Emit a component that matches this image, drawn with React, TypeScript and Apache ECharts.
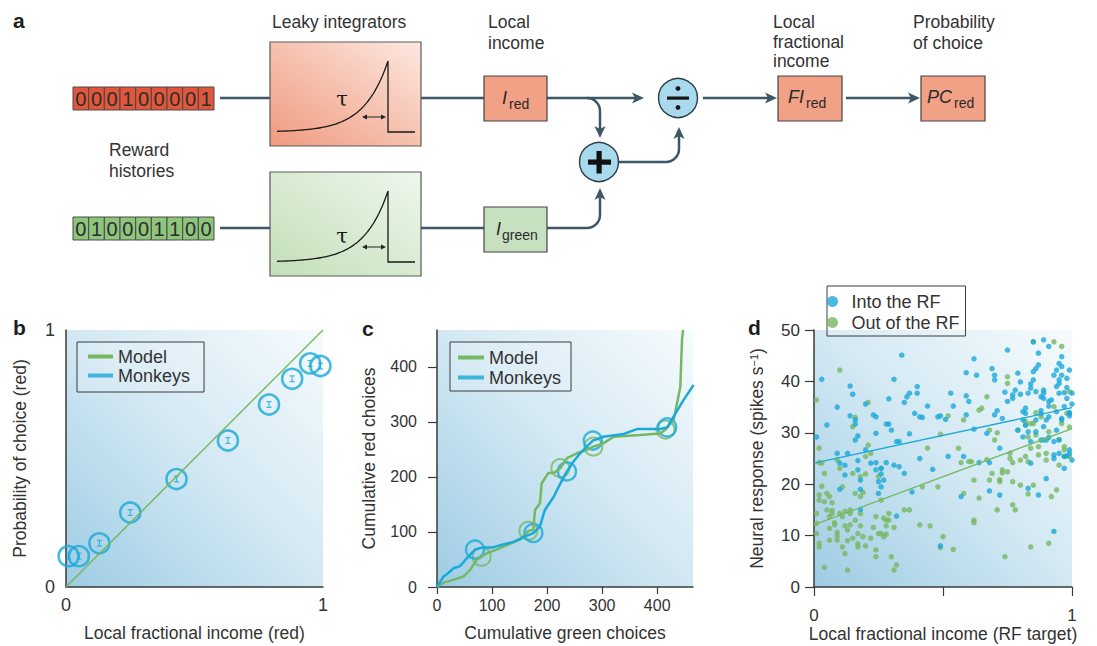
import React, { useEffect, useRef } from "react";
import * as echarts from "echarts";

const FONT = '"Liberation Sans", Arimo, Arial, Helvetica, sans-serif';
const SERIF = '"DejaVu Serif", "Liberation Serif", serif';
const TEXT = "#333333";
const BLUE = "#1aa9da";
const GREEN = "#76b862";
const AXIS = "#3a3a3a";
const WIRE = "#3d5764";

// ---------- Panel a: reward histories ----------
const redHistory = [0, 0, 0, 1, 0, 0, 0, 0, 1];
const greenHistory = [0, 1, 0, 0, 0, 1, 1, 0, 0];

// ---------- Panel b ----------
const fractionalIncome = [0.01, 0.05, 0.13, 0.25, 0.43, 0.63, 0.79, 0.88, 0.95, 0.99];
const choiceProbability = [0.12, 0.12, 0.17, 0.29, 0.42, 0.57, 0.71, 0.81, 0.87, 0.86];
const modelDiagonal = [[0, 0], [1, 1]];
const bTicks = [0, 1];

// ---------- Panel c ----------
const monkeyCumulative = [
  [0, 0], [6, 10], [12, 19], [20, 25], [30, 34], [42, 38], [54, 52], [69, 68], [84, 72], [102, 72],
  [115, 76], [139, 82], [160, 92], [175, 98], [187, 110], [196, 140], [212, 164], [224, 188],
  [236, 210], [248, 228], [260, 243], [272, 255], [283, 266], [302, 273], [339, 278], [363, 287],
  [405, 287], [418, 290], [430, 310], [448, 340], [466, 367],
];
const modelCumulative = [
  [0, 0], [12, 8], [30, 13], [48, 19], [60, 31], [72, 49], [81, 55], [90, 61], [108, 68], [127, 76],
  [151, 86], [166, 102], [175, 104], [178, 140], [187, 152], [190, 188], [202, 207], [212, 207],
  [224, 216], [236, 234], [254, 243], [272, 249], [284, 255], [302, 261], [321, 273], [369, 276],
  [405, 279], [415, 286], [430, 304], [442, 364], [445, 449], [447, 467],
];
const monkeyMarkers = [[69, 68], [175, 98], [236, 210], [283, 266], [418, 290]];
const modelMarkers = [[81, 55], [166, 102], [224, 216], [284, 255], [415, 286]];
const cTicks = [0, 100, 200, 300, 400];

// ---------- Panel d ----------
const intoRF = [
  [0.01, 29.2], [0.03, 40.4], [0.05, 31.5], [0.09, 35.0], [0.10, 24.1], [0.09, 26.0], [0.10, 19.0], [0.12, 23.7],
  [0.12, 21.8], [0.13, 26.0], [0.14, 39.1], [0.14, 33.3], [0.15, 37.5], [0.16, 32.5], [0.16, 31.7], [0.17, 29.4],
  [0.16, 28.6], [0.17, 24.6], [0.17, 22.8], [0.18, 20.8], [0.18, 19.0], [0.18, 15.1], [0.20, 26.7], [0.20, 35.6],
  [0.22, 24.1], [0.23, 33.5], [0.24, 33.1], [0.24, 29.9], [0.24, 22.8], [0.24, 24.2], [0.25, 20.5], [0.25, 18.2],
  [0.26, 23.1], [0.26, 22.0], [0.26, 19.5], [0.27, 20.8], [0.28, 24.2], [0.28, 31.7], [0.29, 31.7], [0.29, 36.6],
  [0.30, 30.5], [0.31, 40.4], [0.31, 23.7], [0.32, 28.3], [0.32, 13.8], [0.33, 28.3], [0.33, 23.4], [0.34, 45.1],
  [0.35, 22.1], [0.35, 35.9], [0.36, 37.0], [0.37, 29.8], [0.37, 37.7], [0.38, 18.5], [0.39, 33.8], [0.40, 39.0],
  [0.40, 37.7], [0.41, 25.0], [0.41, 33.1], [0.42, 33.0], [0.44, 35.2], [0.46, 22.9], [0.48, 33.1], [0.49, 33.3],
  [0.49, 8.0], [0.51, 32.6], [0.52, 25.4], [0.53, 37.7], [0.54, 35.2], [0.57, 17.6], [0.58, 25.4], [0.59, 33.5],
  [0.59, 41.7], [0.59, 37.2], [0.60, 36.1], [0.62, 30.7], [0.62, 44.4], [0.63, 41.2], [0.64, 24.2], [0.67, 29.9],
  [0.68, 18.7], [0.68, 24.2], [0.69, 42.5], [0.70, 41.2], [0.70, 40.3], [0.70, 33.5], [0.71, 34.3], [0.72, 27.0],
  [0.72, 17.9], [0.73, 32.8], [0.74, 37.9], [0.75, 46.1], [0.75, 36.1], [0.77, 36.7], [0.77, 37.4], [0.78, 38.3],
  [0.79, 41.6], [0.79, 30.5], [0.80, 37.5], [0.80, 39.9], [0.81, 32.5], [0.81, 34.1], [0.82, 31.5], [0.82, 33.8],
  [0.82, 34.8], [0.83, 30.2], [0.83, 19.2], [0.83, 37.7], [0.84, 39.5], [0.84, 38.7], [0.84, 24.1], [0.85, 47.7],
  [0.85, 41.9], [0.85, 40.3], [0.86, 32.5], [0.86, 38.0], [0.86, 42.5], [0.87, 43.2], [0.87, 17.9], [0.87, 45.5],
  [0.88, 28.6], [0.88, 37.0], [0.88, 33.7], [0.88, 34.3], [0.89, 48.1], [0.89, 36.7], [0.89, 38.3], [0.89, 37.7],
  [0.90, 32.5], [0.90, 28.6], [0.90, 21.1], [0.91, 46.8], [0.91, 36.1], [0.91, 35.2], [0.91, 29.1], [0.92, 36.4],
  [0.93, 28.3], [0.93, 10.8], [0.93, 25.7], [0.93, 25.0], [0.93, 41.2], [0.94, 42.2], [0.94, 39.0], [0.94, 34.1],
  [0.95, 40.3], [0.95, 37.7], [0.95, 39.6], [0.95, 43.5], [0.96, 41.2], [0.96, 44.8], [0.96, 42.9], [0.96, 32.8],
  [0.97, 35.1], [0.97, 23.1], [0.97, 37.8], [0.98, 38.8], [0.98, 40.6], [0.98, 36.7], [0.99, 33.9], [0.99, 33.8],
  [0.99, 42.2], [0.99, 33.3], [1.00, 24.7], [1.00, 37.7], [1.00, 35.6], [0.99, 26.0], [0.99, 26.7], [0.98, 25.5],
  [0.97, 25.4], [0.95, 26.0], [0.95, 28.6], [0.96, 32.5], [0.94, 30.5], [0.91, 33.1], [0.89, 31.2], [0.86, 30.2],
  [0.84, 28.3], [0.81, 29.2],
];
const outRF = [
  [0.01, 36.4], [0.02, 27.0], [0.02, 24.2], [0.03, 24.1], [0.03, 19.6], [0.02, 17.9], [0.02, 16.9], [0.01, 14.3],
  [0.01, 12.4], [0.01, 10.4], [0.02, 8.5], [0.02, 7.8], [0.04, 22.1], [0.04, 16.6], [0.04, 3.8], [0.05, 15.0],
  [0.05, 18.2], [0.06, 11.4], [0.06, 13.7], [0.06, 17.6], [0.06, 9.1], [0.07, 14.3], [0.07, 14.9], [0.07, 16.4],
  [0.08, 12.5], [0.08, 12.1], [0.09, 24.7], [0.09, 10.6], [0.09, 9.1], [0.09, 9.9], [0.10, 14.3], [0.10, 23.1],
  [0.10, 42.2], [0.11, 13.7], [0.11, 19.5], [0.11, 7.8], [0.12, 11.9], [0.12, 6.5], [0.12, 14.7], [0.13, 3.3],
  [0.13, 11.1], [0.13, 9.0], [0.14, 14.3], [0.14, 12.1], [0.14, 15.0], [0.15, 22.1], [0.15, 9.5], [0.15, 31.2],
  [0.16, 33.0], [0.16, 18.2], [0.16, 13.0], [0.17, 7.8], [0.17, 10.4], [0.17, 8.4], [0.18, 17.6], [0.18, 14.3],
  [0.18, 21.5], [0.18, 11.9], [0.19, 9.8], [0.19, 18.4], [0.20, 25.4], [0.20, 22.0], [0.20, 8.0], [0.21, 35.9],
  [0.21, 27.6], [0.22, 26.0], [0.22, 9.5], [0.23, 11.6], [0.24, 13.7], [0.24, 7.2], [0.24, 5.9], [0.25, 10.4],
  [0.25, 21.5], [0.26, 23.1], [0.26, 10.4], [0.26, 16.9], [0.27, 9.8], [0.27, 13.4], [0.28, 10.3], [0.28, 13.0],
  [0.28, 11.9], [0.29, 14.3], [0.29, 13.0], [0.30, 5.9], [0.31, 11.6], [0.31, 3.3], [0.32, 4.3], [0.35, 15.0],
  [0.37, 15.0], [0.42, 19.5], [0.41, 12.1], [0.44, 27.0], [0.45, 11.9], [0.48, 19.5], [0.49, 29.7], [0.49, 7.7],
  [0.50, 9.8], [0.52, 33.3], [0.54, 7.3], [0.56, 27.0], [0.57, 24.2], [0.58, 32.5], [0.58, 18.2], [0.60, 24.4],
  [0.61, 24.4], [0.62, 12.5], [0.62, 13.0], [0.62, 20.8], [0.64, 34.4], [0.64, 17.3], [0.65, 34.8], [0.67, 37.0],
  [0.67, 24.8], [0.68, 20.8], [0.68, 30.5], [0.69, 22.1], [0.70, 28.6], [0.71, 15.0], [0.71, 30.0], [0.72, 20.9],
  [0.72, 20.5], [0.73, 22.2], [0.73, 22.8], [0.74, 5.9], [0.75, 40.9], [0.75, 39.6], [0.75, 22.4], [0.76, 25.0],
  [0.76, 26.0], [0.77, 16.0], [0.77, 24.2], [0.77, 20.5], [0.78, 15.0], [0.79, 30.5], [0.80, 24.7], [0.80, 19.8],
  [0.82, 25.4], [0.82, 31.5], [0.82, 32.2], [0.83, 29.2], [0.83, 24.4], [0.83, 18.1], [0.84, 7.8], [0.84, 27.0],
  [0.84, 31.8], [0.85, 19.8], [0.85, 47.7], [0.85, 31.8], [0.86, 33.9], [0.86, 29.6], [0.87, 25.7], [0.87, 27.3],
  [0.88, 33.1], [0.89, 28.6], [0.90, 24.7], [0.90, 26.0], [0.91, 8.5], [0.91, 30.2], [0.92, 17.6], [0.93, 47.7],
  [0.93, 35.1], [0.94, 18.9], [0.95, 23.7], [0.95, 28.7], [0.96, 31.8], [0.96, 46.8], [0.97, 25.4], [0.97, 26.7],
  [0.97, 27.3], [0.98, 33.8], [0.99, 25.4], [0.99, 38.0], [0.99, 31.1],
];
const intoFit = [[0, 24.1], [1, 34.9]];
const outFit = [[0, 12.1], [1, 30.8]];
const dXLabels = [0, 1];

// ---------- helpers ----------
const plotBg = () =>
  new echarts.graphic.LinearGradient(0, 1, 1, 0, [
    { offset: 0, color: "#9ecce4" },
    { offset: 0.5, color: "#d2e8f3" },
    { offset: 1, color: "#f6fbfd" },
  ]);

const txt = (text: string, x: number, y: number, o: any = {}) => ({
  type: "text",
  x,
  y,
  silent: true,
  z: 10,
  style: {
    text,
    fill: o.fill || TEXT,
    fontSize: o.fontSize || 17.5,
    fontFamily: o.fontFamily || FONT,
    fontWeight: o.fontWeight || "normal",
    fontStyle: o.fontStyle || "normal",
    align: o.align || "left",
    verticalAlign: o.va || "middle",
    textAlign: o.align || "left",
    textVerticalAlign: o.va || "middle",
    lineHeight: o.lineHeight,
  },
});

const wire = (x1: number, y1: number, x2: number, y2: number) => ({
  type: "line",
  silent: true,
  shape: { x1, y1, x2, y2 },
  style: { stroke: WIRE, lineWidth: 2.5 },
});

const poly = (points: number[][], fill = WIRE) => ({
  type: "polygon",
  silent: true,
  shape: { points },
  style: { fill },
});

const headRight = (tx: number, ty: number) => poly([[tx, ty], [tx - 12, ty - 5.5], [tx - 9, ty], [tx - 12, ty + 5.5]]);
const headDown = (tx: number, ty: number) => poly([[tx, ty], [tx - 5.5, ty - 12], [tx, ty - 9], [tx + 5.5, ty - 12]]);
const headUp = (tx: number, ty: number) => poly([[tx, ty], [tx - 5.5, ty + 12], [tx, ty + 9], [tx + 5.5, ty + 12]]);

const arc = (cx: number, cy: number, r: number, s: number, e: number, cw: boolean) => ({
  type: "arc",
  silent: true,
  shape: { cx, cy, r, startAngle: s, endAngle: e, clockwise: cw },
  style: { stroke: WIRE, lineWidth: 2.5, fill: null },
});

function buildDiagram() {
  const g: any[] = [];
  const cellW = 141 / 9;
  const addHistory = (bits: number[], y: number, fill: string) => {
    bits.forEach((b, i) => {
      const x = 73 + i * cellW;
      g.push({
        type: "rect",
        silent: true,
        shape: { x, y, width: cellW, height: 23 },
        style: { fill, stroke: "#4a4a4a", lineWidth: 1 },
      });
      g.push(txt(String(b), x + cellW / 2, y + 12, { fontSize: 20, align: "center", fill: "#2d2d2d" }));
    });
  };
  addHistory(redHistory, 87, "#e2573b");
  addHistory(greenHistory, 217, "#8ec47c");

  const integrator = (top: number, c0: string, c1: string, tauY: number) => {
    g.push({
      type: "rect",
      silent: true,
      shape: { x: 270, y: top, width: 151, height: 104 },
      style: {
        fill: new echarts.graphic.LinearGradient(0, 1, 1, 0, [
          { offset: 0, color: c0 },
          { offset: 1, color: c1 },
        ]),
        stroke: "#5a5a5a",
        lineWidth: 1.2,
      },
    });
    const base = top + 90;
    const peak = top + 19;
    const px = 388;
    const pts: number[][] = [];
    for (let x = 277; x < px; x += 1.5) pts.push([x, base - (base - peak) * Math.exp((x - px) / 24)]);
    pts.push([px, peak], [px, base], [415, base]);
    g.push({
      type: "polyline",
      silent: true,
      shape: { points: pts },
      style: { stroke: "#1a1a1a", lineWidth: 1.3, fill: null },
    });
    g.push(txt("τ", 342, top + tauY, { fontSize: 21, fontFamily: SERIF, align: "center", fill: "#1a1a1a" }));
    const ay = top + 75;
    g.push({ type: "line", silent: true, shape: { x1: 365, y1: ay, x2: 383, y2: ay }, style: { stroke: "#222", lineWidth: 1 } });
    g.push(poly([[362, ay], [367, ay - 2.5], [367, ay + 2.5]], "#222"));
    g.push(poly([[386, ay], [381, ay - 2.5], [381, ay + 2.5]], "#222"));
  };
  integrator(42, "#ef9a7e", "#fde8e0", 57);
  integrator(172, "#c2dfb8", "#eff7ed", 64);

  // wires
  g.push(wire(220, 98, 270, 98), wire(220, 228, 270, 228));
  g.push(wire(421, 98, 484, 98), wire(421, 228, 484, 228));
  g.push(wire(547, 98, 636, 98), headRight(644, 98));
  g.push(arc(587, 111, 13, -Math.PI / 2, 0, true), wire(600, 111, 600, 130), headDown(600, 138));
  g.push(wire(617, 162, 666, 162), arc(666, 149, 13, Math.PI / 2, 0, false), wire(679, 149, 679, 134), headUp(679, 127));
  g.push(wire(547, 228, 587, 228), arc(587, 215, 13, Math.PI / 2, 0, false), wire(600, 215, 600, 195), headUp(600, 188));
  g.push(wire(703, 98, 769, 98), headRight(777, 98));
  g.push(wire(846, 98, 912, 98), headRight(920, 98));

  // operators
  g.push({
    type: "circle",
    silent: true,
    shape: { cx: 678, cy: 98, r: 19.5 },
    style: { fill: "#a8d9ec", stroke: "#2e3e46", lineWidth: 1.4 },
  });
  g.push({ type: "rect", silent: true, shape: { x: 667, y: 96.5, width: 22, height: 3.2 }, style: { fill: "#151515" } });
  g.push({ type: "circle", silent: true, shape: { cx: 678, cy: 88.5, r: 2.4 }, style: { fill: "#151515" } });
  g.push({ type: "circle", silent: true, shape: { cx: 678, cy: 107.5, r: 2.4 }, style: { fill: "#151515" } });
  g.push({
    type: "circle",
    silent: true,
    shape: { cx: 599, cy: 162, r: 19.5 },
    style: { fill: "#a8d9ec", stroke: "#2e3e46", lineWidth: 1.4 },
  });
  g.push({ type: "rect", silent: true, shape: { x: 588, y: 159.5, width: 23, height: 5.2 }, style: { fill: "#111" } });
  g.push({ type: "rect", silent: true, shape: { x: 596.5, y: 151, width: 5.2, height: 22.5 }, style: { fill: "#111" } });

  // value boxes
  const box = (x: number, y: number, w: number, fill: string) =>
    g.push({
      type: "rect",
      silent: true,
      shape: { x, y, width: w, height: 45 },
      style: { fill, stroke: "#444", lineWidth: 1.2 },
    });
  box(484, 76, 63, "#f0a186");
  box(484, 207, 63, "#c6e0c0");
  box(778, 76, 64, "#f0a186");
  box(921, 76, 64, "#f0a186");
  const sub = (main: string, x: number, y: number, s: string, sx: number) => {
    g.push(txt(main, x, y, { fontSize: 18, fontStyle: "italic", fill: "#2a2a2a" }));
    g.push(txt(s, sx, y + 6, { fontSize: 14, fill: "#2a2a2a" }));
  };
  sub("I", 502, 98, "red", 509);
  sub("I", 496, 229, "green", 502);
  sub("FI", 788, 97, "red", 806);
  sub("PC", 927, 97, "red", 954);

  // labels
  g.push(txt("Leaky integrators", 272, 22));
  g.push(txt("Local\nincome", 488, 12, { va: "top", lineHeight: 20.5 }));
  g.push(txt("Local\nfractional\nincome", 773, 12, { va: "top", lineHeight: 19.7 }));
  g.push(txt("Probability\nof choice", 913, 12, { va: "top", lineHeight: 20.5 }));
  g.push(txt("Reward\nhistories", 109, 139, { va: "top", lineHeight: 21 }));

  // panel letters
  const letter = (l: string, x: number, y: number) =>
    g.push(txt(l, x, y, { fontSize: 21, fontWeight: "bold", fill: "#1e1e1e" }));
  letter("a", 13, 20);
  letter("b", 13, 327);
  letter("c", 362, 328);
  letter("d", 748, 327);
  return g;
}

const labelStyle = (size: number, margin: number, extra: any = {}) => ({
  color: TEXT,
  fontSize: size,
  fontFamily: FONT,
  margin,
  ...extra,
});
const nameStyle = { color: TEXT, fontSize: 17.5, fontFamily: FONT };
const axisLine = { show: true, onZero: false, lineStyle: { color: AXIS, width: 1.5 } };

function buildOption(): any {
  const gridBase = { show: true, borderWidth: 0, outerBoundsMode: "none", containLabel: false };
  const legendBase = {
    orient: "vertical",
    selectedMode: false,
    borderColor: "#3a3a3a",
    borderWidth: 1,
    borderRadius: 0,
    backgroundColor: "rgba(255,255,255,0.15)",
    textStyle: { fontSize: 18, color: TEXT, fontFamily: FONT, lineHeight: 19 },
  };
  return {
    animation: false,
    backgroundColor: "#ffffff",
    textStyle: { fontFamily: FONT },
    graphic: buildDiagram(),
    grid: [
      { ...gridBase, left: 66, top: 330, width: 257, height: 257, backgroundColor: plotBg() },
      { ...gridBase, left: 437, top: 330, width: 256, height: 257, backgroundColor: plotBg() },
      { ...gridBase, left: 814, top: 330, width: 258, height: 257, backgroundColor: plotBg() },
    ],
    legend: [
      {
        ...legendBase,
        left: 77,
        top: 342,
        padding: [5, 14, 7, 11],
        icon: "rect",
        itemWidth: 25,
        itemHeight: 4,
        itemGap: 0,
        data: [
          { name: "Model", itemStyle: { color: GREEN, borderWidth: 0 } },
          { name: "Monkeys", itemStyle: { color: BLUE, borderWidth: 0 } },
        ],
      },
      {
        ...legendBase,
        left: 450,
        top: 342,
        padding: [6, 10, 4, 8],
        icon: "rect",
        itemWidth: 26,
        itemHeight: 4,
        itemGap: 1,
        data: [
          { name: "Model", itemStyle: { color: GREEN, borderWidth: 0 } },
          { name: "Monkeys", itemStyle: { color: BLUE, borderWidth: 0 } },
        ],
      },
      {
        ...legendBase,
        left: 827,
        top: 286,
        padding: [6, 6, 4, 0],
        icon: "circle",
        itemWidth: 28,
        itemHeight: 11,
        itemGap: 2,
        data: [
          { name: "Into the RF", itemStyle: { color: BLUE, borderWidth: 0 } },
          { name: "Out of the RF", itemStyle: { color: GREEN, borderWidth: 0 } },
        ],
      },
    ],
    xAxis: [
      {
        type: "value",
        gridIndex: 0,
        min: 0,
        max: 1,
        interval: 1,
        axisLine,
        axisTick: { show: false },
        splitLine: { show: false },
        axisLabel: labelStyle(18, 9, { customValues: bTicks }),
        name: "Local fractional income (red)",
        nameLocation: "middle",
        nameGap: 37,
        nameTextStyle: nameStyle,
      },
      {
        type: "value",
        gridIndex: 1,
        min: 0,
        max: 465,
        interval: 100,
        axisLine,
        axisTick: { show: true, length: 7, lineStyle: { color: AXIS, width: 1.2 }, customValues: cTicks },
        splitLine: { show: false },
        axisLabel: labelStyle(16, 10, { customValues: cTicks }),
        name: "Cumulative green choices",
        nameLocation: "middle",
        nameGap: 37,
        nameTextStyle: nameStyle,
      },
      {
        type: "value",
        gridIndex: 2,
        min: 0,
        max: 1,
        interval: 0.5,
        axisLine,
        axisTick: { show: true, length: 9, lineStyle: { color: AXIS, width: 1.2 } },
        splitLine: { show: false },
        axisLabel: labelStyle(17, 20, { customValues: dXLabels }),
        name: "Local fractional income (RF target)",
        nameLocation: "middle",
        nameGap: 37,
        nameTextStyle: nameStyle,
      },
    ],
    yAxis: [
      {
        type: "value",
        gridIndex: 0,
        min: 0,
        max: 1,
        interval: 1,
        axisLine,
        axisTick: { show: false },
        splitLine: { show: false },
        axisLabel: labelStyle(18, 11, { customValues: bTicks }),
        name: "Probability of choice (red)",
        nameLocation: "middle",
        nameGap: 37,
        nameTextStyle: nameStyle,
      },
      {
        type: "value",
        gridIndex: 1,
        min: 0,
        max: 467,
        interval: 100,
        axisLine,
        axisTick: { show: true, length: 9, lineStyle: { color: AXIS, width: 1.2 }, customValues: cTicks },
        splitLine: { show: false },
        axisLabel: labelStyle(16, 20, { customValues: cTicks }),
        name: "Cumulative red choices",
        nameLocation: "middle",
        nameGap: 59,
        nameTextStyle: nameStyle,
      },
      {
        type: "value",
        gridIndex: 2,
        position: "left",
        min: 0,
        max: 50,
        interval: 10,
        axisLine,
        axisTick: { show: true, length: 9, lineStyle: { color: AXIS, width: 1.2 } },
        splitLine: { show: false },
        axisLabel: labelStyle(17, 14),
        name: "Neural response (spikes s{sup|−1})",
        nameLocation: "middle",
        nameGap: 48,
        nameTextStyle: {
          ...nameStyle,
          rich: { sup: { fontSize: 11, fontFamily: FONT, color: TEXT, verticalAlign: "top", lineHeight: 12 } },
        },
      },
      {
        type: "value",
        gridIndex: 2,
        position: "right",
        min: 0,
        max: 50,
        interval: 10,
        axisLine: { show: false },
        axisTick: { show: true, inside: true, length: 4, lineStyle: { color: AXIS }, customValues: [10, 20, 30, 40] },
        axisLabel: { show: false },
        splitLine: { show: false },
      },
    ],
    series: [
      // panel b
      {
        name: "Model",
        type: "line",
        xAxisIndex: 0,
        yAxisIndex: 0,
        data: modelDiagonal,
        symbol: "none",
        lineStyle: { color: GREEN, width: 1.5 },
        itemStyle: { color: GREEN },
        silent: true,
      },
      {
        name: "Monkeys",
        type: "scatter",
        xAxisIndex: 0,
        yAxisIndex: 0,
        data: fractionalIncome.map((x, i) => [x, choiceProbability[i]]),
        symbol: "circle",
        symbolSize: 20,
        itemStyle: { color: "rgba(0,0,0,0)", borderColor: BLUE, borderWidth: 2.6 },
        silent: true,
      },
      {
        name: "Monkeys error",
        type: "scatter",
        xAxisIndex: 0,
        yAxisIndex: 0,
        data: fractionalIncome.map((x, i) => [x, choiceProbability[i]]),
        symbol: "path://M0,0H6V1.4H3.7V6.6H6V8H0V6.6H2.3V1.4H0Z",
        symbolSize: [5, 7],
        itemStyle: { color: BLUE },
        silent: true,
      },
      // panel c
      {
        name: "Model",
        type: "line",
        xAxisIndex: 1,
        yAxisIndex: 1,
        data: modelCumulative,
        symbol: "none",
        lineStyle: { color: GREEN, width: 2.5 },
        itemStyle: { color: GREEN },
        silent: true,
      },
      {
        name: "Model markers",
        type: "scatter",
        xAxisIndex: 1,
        yAxisIndex: 1,
        data: modelMarkers,
        symbolSize: 18,
        itemStyle: { color: "rgba(0,0,0,0)", borderColor: GREEN, borderWidth: 2 },
        silent: true,
      },
      {
        name: "Monkeys",
        type: "line",
        xAxisIndex: 1,
        yAxisIndex: 1,
        data: monkeyCumulative,
        symbol: "none",
        lineStyle: { color: BLUE, width: 2.5 },
        itemStyle: { color: BLUE },
        silent: true,
      },
      {
        name: "Monkey markers",
        type: "scatter",
        xAxisIndex: 1,
        yAxisIndex: 1,
        data: monkeyMarkers,
        symbolSize: 18,
        itemStyle: { color: "rgba(0,0,0,0)", borderColor: BLUE, borderWidth: 2.4 },
        silent: true,
      },
      // panel d
      {
        name: "Out of the RF",
        type: "scatter",
        xAxisIndex: 2,
        yAxisIndex: 2,
        data: outRF,
        symbolSize: 5.5,
        itemStyle: { color: GREEN },
        silent: true,
      },
      {
        name: "Into the RF",
        type: "scatter",
        xAxisIndex: 2,
        yAxisIndex: 2,
        data: intoRF,
        symbolSize: 5.5,
        itemStyle: { color: BLUE },
        silent: true,
      },
      {
        name: "Into fit",
        type: "line",
        xAxisIndex: 2,
        yAxisIndex: 2,
        data: intoFit,
        symbol: "none",
        lineStyle: { color: BLUE, width: 1.3 },
        silent: true,
      },
      {
        name: "Out fit",
        type: "line",
        xAxisIndex: 2,
        yAxisIndex: 2,
        data: outFit,
        symbol: "none",
        lineStyle: { color: GREEN, width: 1.3 },
        silent: true,
      },
    ],
  };
}

export default function App() {
  const ref = useRef<HTMLDivElement>(null);
  useEffect(() => {
    if (!ref.current) return;
    const chart = echarts.init(ref.current, undefined, { renderer: "svg" });
    chart.setOption(buildOption());
    return () => chart.dispose();
  }, []);
  return (
    <div
      ref={ref}
      style={{ position: "fixed", left: 0, top: 0, width: 1097, height: 646, background: "#ffffff" }}
    />
  );
}
